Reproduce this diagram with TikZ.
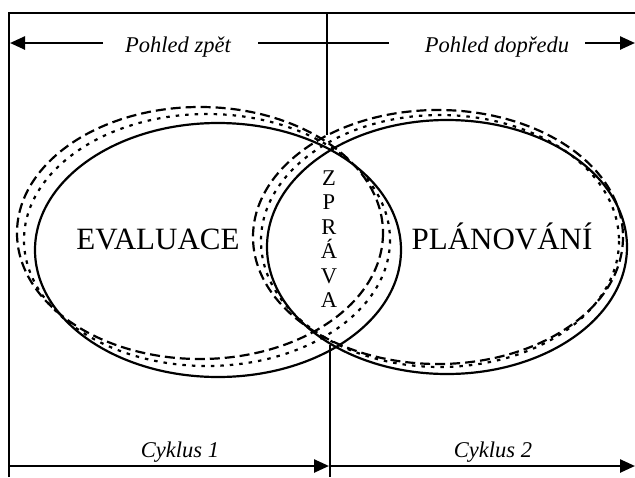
\documentclass[tikz,border=0pt]{standalone}
\usepackage{fontspec}
\setmainfont{Liberation Serif}
\usetikzlibrary{arrows.meta}
\begin{document}
\begin{tikzpicture}[x=1pt,y=-1pt,
  frame/.style={line width=2.5pt},
  arr/.style={line width=2.5pt,-{Triangle[length=15pt,width=13pt]}},
  solidell/.style={line width=2.2pt},
  dashell/.style={line width=2.2pt,dash pattern=on 10pt off 5pt},
  dotell/.style={line width=2.2pt,dash pattern=on 3.5pt off 6pt},
  lab/.style={font=\fontsize{22.5}{22.5}\selectfont\itshape,inner sep=0pt,anchor=base},
  big/.style={font=\fontsize{31}{31}\selectfont,inner sep=0pt,anchor=base},
  letter/.style={font=\fontsize{22.5}{22.5}\selectfont,inner sep=0pt,anchor=base}]
\useasboundingbox (0,0) rectangle (635,477);
% frame
\coordinate (tl) at (9,13);
\coordinate (tr) at (635,13);
\coordinate (bl) at (9,477);
\coordinate (mt) at (327,13);
\coordinate (mtend) at (327,135);
\coordinate (mbstart) at (330,345);
\coordinate (mb) at (330,477);
\draw[frame] (bl) -- (tl) -- (tr);
\draw[line width=2.2pt] (mt) -- (mtend);
\draw[line width=2.2pt] (mbstart) -- (mb);
% ellipses
\draw[solidell] (218,250) ellipse [x radius=183, y radius=127];
\draw[dashell]  (200,233) ellipse [x radius=183, y radius=126];
\draw[dotell]   (207,240) ellipse [x radius=183, y radius=126];
\draw[solidell] (447,247) ellipse [x radius=180, y radius=127];
\draw[dashell]  (438,237) ellipse [x radius=185, y radius=127];
\draw[dotell]   (440,241) ellipse [x radius=179, y radius=126];
% top labels and arrows
\node[lab] (zpet) at (178,52) {Pohled zpět};
\node[lab] (dopredu) at (497,52) {Pohled dopředu};
\coordinate (a0) at (103,43);
\coordinate (a0tip) at (10,43);
\coordinate (m0) at (258,43);
\coordinate (m1) at (389,43);
\coordinate (a1) at (585,43);
\coordinate (a1tip) at (635,43);
\draw[arr] (a0) -- (a0tip);
\draw[frame] (m0) -- (m1);
\draw[arr] (a1) -- (a1tip);
% bottom labels and arrows
\node[lab] (c1) at (180,457) {Cyklus 1};
\node[lab] (c2) at (493,457) {Cyklus 2};
\coordinate (b0) at (9,466);
\coordinate (b0tip) at (329,466);
\coordinate (b1) at (330,466);
\coordinate (b1tip) at (635,466);
\draw[arr] (b0) -- (b0tip);
\draw[arr] (b1) -- (b1tip);
% big labels
\node[big] (eval) at (158,249) {EVALUACE};
\node[big] (plan) at (502,249) {PLÁNOVÁNÍ};
% ZPRAVA
\node[letter] (z1) at (329,185) {Z};
\node[letter] (z2) at (329,209.5) {P};
\node[letter] (z3) at (329,234) {R};
\node[letter] (z4) at (329,258.5) {Á};
\node[letter] (z5) at (329,283) {V};
\node[letter] (z6) at (329,307.5) {A};
\end{tikzpicture}
\end{document}
